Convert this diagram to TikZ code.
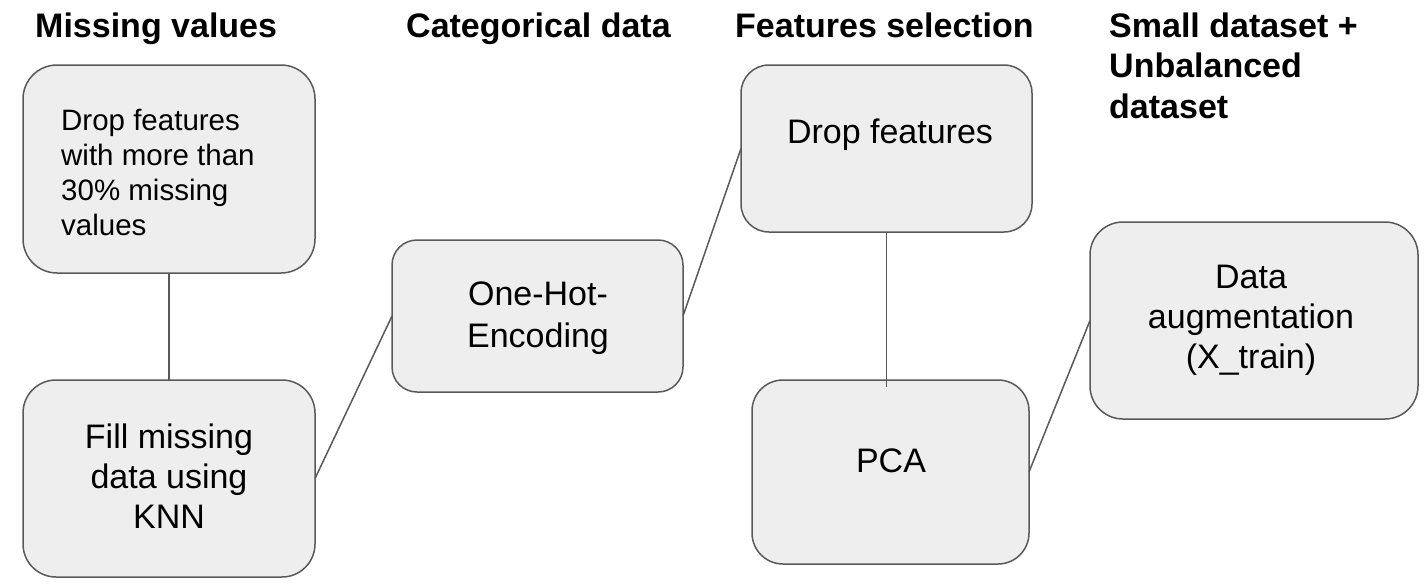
\documentclass[tikz,border=0pt]{standalone}
\usepackage{fontspec}
\setmainfont{Liberation Sans}
\usetikzlibrary{calc}
\definecolor{boxfill}{HTML}{EEEEEE}
\definecolor{boxline}{HTML}{595959}
\begin{document}
\begin{tikzpicture}[x=1pt,y=-1pt,
  box/.style={draw=boxline, fill=boxfill, line width=1.5pt, inner sep=0pt, outer sep=0pt},
  head/.style={font=\fontsize{34}{40.5}\selectfont\bfseries, anchor=base west, align=left, inner sep=0pt},
  body/.style={font=\fontsize{34}{40}\selectfont, anchor=base, align=center, inner sep=0pt},
  conn/.style={draw=boxline, line width=1.5pt}]
\useasboundingbox (0,0) rectangle (1428,584);
% boxes
\node[box, rounded corners=34pt, minimum width=292pt, minimum height=208pt] (b1) at (169,169) {};
\node[box, rounded corners=33pt, minimum width=292pt, minimum height=197pt] (b2) at (169,478.5) {};
\node[box, rounded corners=25pt, minimum width=291pt, minimum height=152pt] (oh) at (537.5,316) {};
\node[box, rounded corners=28pt, minimum width=291pt, minimum height=167pt] (df) at (886.5,148.5) {};
\node[box, rounded corners=31pt, minimum width=277pt, minimum height=184pt] (pca) at (890.5,472) {};
\node[box, rounded corners=33pt, minimum width=328pt, minimum height=197pt] (da) at (1254,320.5) {};
% connectors
\draw[conn] (b1.south) -- (b2.north);
\draw[conn] (b2.east) -- (oh.west);
\draw[conn] (oh.east) -- (df.west);
\coordinate (pcatop) at ($(df.south |- pca.north)+(0,7)$);
\draw[conn] (df.south) -- (pcatop);
\draw[conn] (pca.east) -- (da.west);
% headings (anchor base = baseline of last line)
\node[head] (h1) at (35,37) {Missing values};
\node[head] (h2) at (406,37) {Categorical data};
\node[head] (h3) at (735,37) {Features selection};
\node[head] (h4) at (1109,118) {Small dataset +\\Unbalanced\\dataset};
% box texts
\node[body, anchor=base west, align=left, font=\fontsize{29.5}{35}\selectfont] (t1) at (61,235) {Drop features\\with more than\\30\% missing\\values};
\node[body] (t2) at (169,528) {Fill missing\\data using\\KNN};
\node[body, font=\fontsize{34}{42}\selectfont] (t3) at (538,347) {One-Hot-\\Encoding};
\node[body] (t4) at (890,143) {Drop features};
\node[body] (t5) at (891,472) {PCA};
\node[body] (t6) at (1251,368) {Data\\augmentation\\(X\_train)};
\end{tikzpicture}
\end{document}
